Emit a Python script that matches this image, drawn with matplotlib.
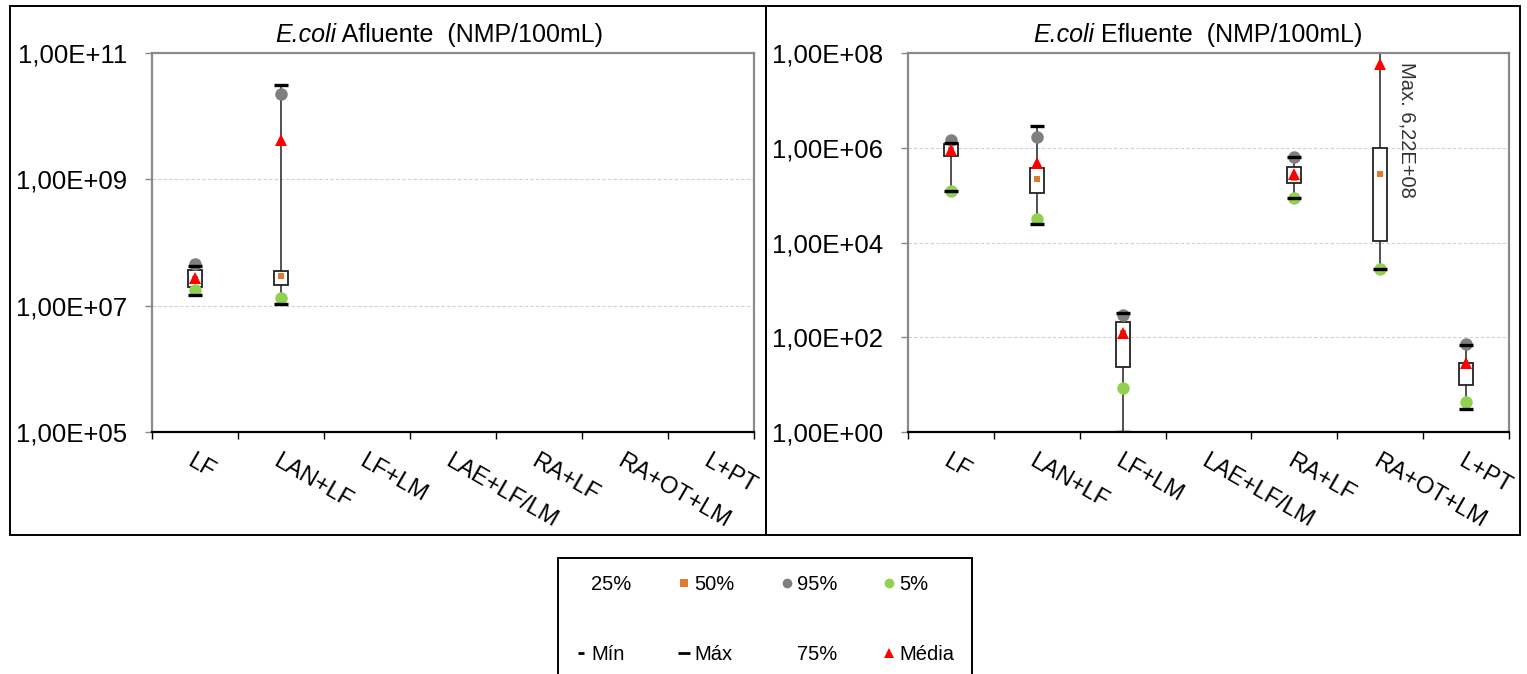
import numpy as np
import matplotlib
matplotlib.use("Agg")
import matplotlib.pyplot as plt
from matplotlib.lines import Line2D
from matplotlib.patches import Rectangle
from matplotlib.ticker import FuncFormatter, FixedLocator

plt.rcParams['font.family'] = ['Liberation Sans', 'DejaVu Sans']

nan = np.nan
categorias = ["LF", "LAN+LF", "LF+LM", "LAE+LF/LM", "RA+LF", "RA+OT+LM", "L+PT"]

# Afluente (NMP/100mL)
afl_min = [1.45e7, 1.07e7, nan, nan, nan, nan, nan]
afl_max = [4.2e7, 3.1e10, nan, nan, nan, nan, nan]
afl_p5 = [1.74e7, 1.3e7, nan, nan, nan, nan, nan]
afl_p25 = [2.0e7, 2.16e7, nan, nan, nan, nan, nan]
afl_p50 = [2.6e7, 3.0e7, nan, nan, nan, nan, nan]
afl_p75 = [3.7e7, 3.6e7, nan, nan, nan, nan, nan]
afl_p95 = [4.6e7, 2.24e10, nan, nan, nan, nan, nan]
afl_media = [2.7e7, 4.2e9, nan, nan, nan, nan, nan]

# Efluente (NMP/100mL)
efl_min = [1.24e5, 2.5e4, 1.0, nan, 8.9e4, 2.7e3, 3.05]
efl_max = [1.27e6, 2.9e6, 320, nan, 6.5e5, 6.22e8, 70]
efl_p5 = [1.24e5, 3.2e4, 8.4, nan, 8.9e4, 2.7e3, 4.3]
efl_p25 = [6.8e5, 1.13e5, 23.5, nan, 1.83e5, 1.1e4, 9.8]
efl_p50 = [9.0e5, 2.2e5, 120, nan, 2.35e5, 2.8e5, 25]
efl_p75 = [1.2e6, 3.8e5, 207, nan, 4.0e5, 1.0e6, 28]
efl_p95 = [1.48e6, 1.7e6, 290, nan, 6.5e5, 3.0e8, 73]
efl_media = [9.1e5, 4.8e5, 121, nan, 2.84e5, 5.9e7, 28]

W, H = 1527, 674
fig = plt.figure(figsize=(W / 100, H / 100), dpi=100)

# panel frames
for x0, x1 in [(10, 766), (766, 1520)]:
    fig.patches.append(Rectangle((x0 / W, 1 - 535 / H), (x1 - x0) / W, (535 - 6) / H,
                                 transform=fig.transFigure, fill=False,
                                 edgecolor='black', linewidth=1.4, zorder=0))

def fmt(v, pos):
    return f"{v:.2E}".replace('.', ',')

def painel(rect, titulo, mn, mx, p5, p25, p50, p75, p95, media, ylim, yticks, tx):
    ax = fig.add_axes(rect)
    x = np.arange(len(categorias))
    mn, mx, p25, p75 = map(np.array, (mn, mx, p25, p75))
    ax.vlines(x, mn, mx, color='#333333', linewidth=1.2, zorder=2)
    ax.bar(x, p75 - p25, bottom=p25, width=0.165, color='white',
           edgecolor='#222222', linewidth=1.3, zorder=3)
    ax.plot(x, p5, 'o', color='#92d050', ms=9, mew=0, zorder=4)
    ax.plot(x, p95, 'o', color='#7f7f7f', ms=9, mew=0, zorder=4)
    ax.plot(x, mn, '_', color='black', ms=9.5, mew=2.4, zorder=5)
    ax.plot(x, mx, '_', color='black', ms=9.5, mew=2.4, zorder=5)
    ax.plot(x, p50, 's', color='#e07b30', ms=5, mew=0, zorder=6)
    ax.plot(x, media, '^', color='#ff0000', ms=9, mew=0, zorder=7)

    ax.set_yscale('log')
    ax.set_ylim(*ylim)
    ax.yaxis.set_major_locator(FixedLocator(yticks))
    ax.yaxis.set_minor_locator(FixedLocator([]))
    ax.yaxis.set_major_formatter(FuncFormatter(fmt))
    ax.set_xlim(-0.5, len(categorias) - 0.5)
    ax.set_xticks(x)
    ax.set_xticklabels(categorias)
    ax.set_xticks(np.arange(-0.5, len(categorias)), minor=True)
    ax.tick_params(axis='x', which='major', length=0, pad=13, labelsize=17)
    ax.tick_params(axis='x', which='minor', length=5, width=1, color='black')
    ax.tick_params(axis='y', which='major', length=5, width=1, color='#888888',
                   pad=13, labelsize=18.5)
    for lab in ax.get_xticklabels():
        lab.set_rotation(-30)
        lab.set_ha('left')
        lab.set_va('top')
        lab.set_rotation_mode('anchor')
    ax.grid(axis='y', color='#d0d0d0', linestyle=(0, (3, 2)), linewidth=0.8)
    ax.set_axisbelow(True)
    for s in ['left', 'top', 'right']:
        ax.spines[s].set_color('#8a8a8a')
        ax.spines[s].set_linewidth(1.6)
    ax.spines['bottom'].set_color('black')
    ax.spines['bottom'].set_linewidth(1.6)

    # title: italic species name followed by upright text
    t1 = ax.text(tx, 1.029, "E.coli", style='italic', fontsize=18,
                 ha='left', va='baseline', transform=ax.transAxes)
    ax.annotate(titulo, xy=(1, 0), xycoords=t1, va='bottom', fontsize=18)
    return ax

ax1 = painel([152 / W, 1 - 432 / H, (754 - 152) / W, (432 - 53) / H],
             " Afluente  (NMP/100mL)",
             afl_min, afl_max, afl_p5, afl_p25, afl_p50, afl_p75, afl_p95, afl_media,
             (1e5, 1e11), [1e5, 1e7, 1e9, 1e11], 0.204)
ax2 = painel([908 / W, 1 - 432 / H, (1509 - 908) / W, (432 - 53) / H],
             " Efluente  (NMP/100mL)",
             efl_min, efl_max, efl_p5, efl_p25, efl_p50, efl_p75, efl_p95, efl_media,
             (1e0, 1e8), [1e0, 1e2, 1e4, 1e6, 1e8], 0.208)
ax2.text(5.31, 2.4e6, "Max. 6,22E+08", rotation=-90, ha='center', va='center',
         fontsize=14.5, color='#333333')

# legend (column-major order for ncol=4)
nada = Line2D([], [], linestyle='none')
handles = [
    nada,
    Line2D([], [], linestyle='none', marker='_', color='black', ms=5, mew=2),
    Line2D([], [], linestyle='none', marker='s', color='#e07b30', ms=6, mew=0),
    Line2D([], [], linestyle='none', marker='_', color='black', ms=9, mew=2),
    Line2D([], [], linestyle='none', marker='o', color='#7f7f7f', ms=7, mew=0),
    nada,
    Line2D([], [], linestyle='none', marker='o', color='#92d050', ms=7, mew=0),
    Line2D([], [], linestyle='none', marker='^', color='#ff0000', ms=7, mew=0),
]
labels = ["25%", "Mín", "50%", "Máx", "95%", "75%", "5%", "Média"]
leg = fig.legend(handles, labels, ncol=4, loc='upper left',
                 bbox_to_anchor=(558 / W, 1 - 558 / H), fontsize=14.5,
                 frameon=True, fancybox=False, framealpha=1, edgecolor='black',
                 handlelength=0.6, handletextpad=0.2, columnspacing=2.3,
                 labelspacing=2.55, borderpad=0.85, borderaxespad=0)
leg.get_frame().set_linewidth(1.4)

fig.savefig("out.png", dpi=100)
